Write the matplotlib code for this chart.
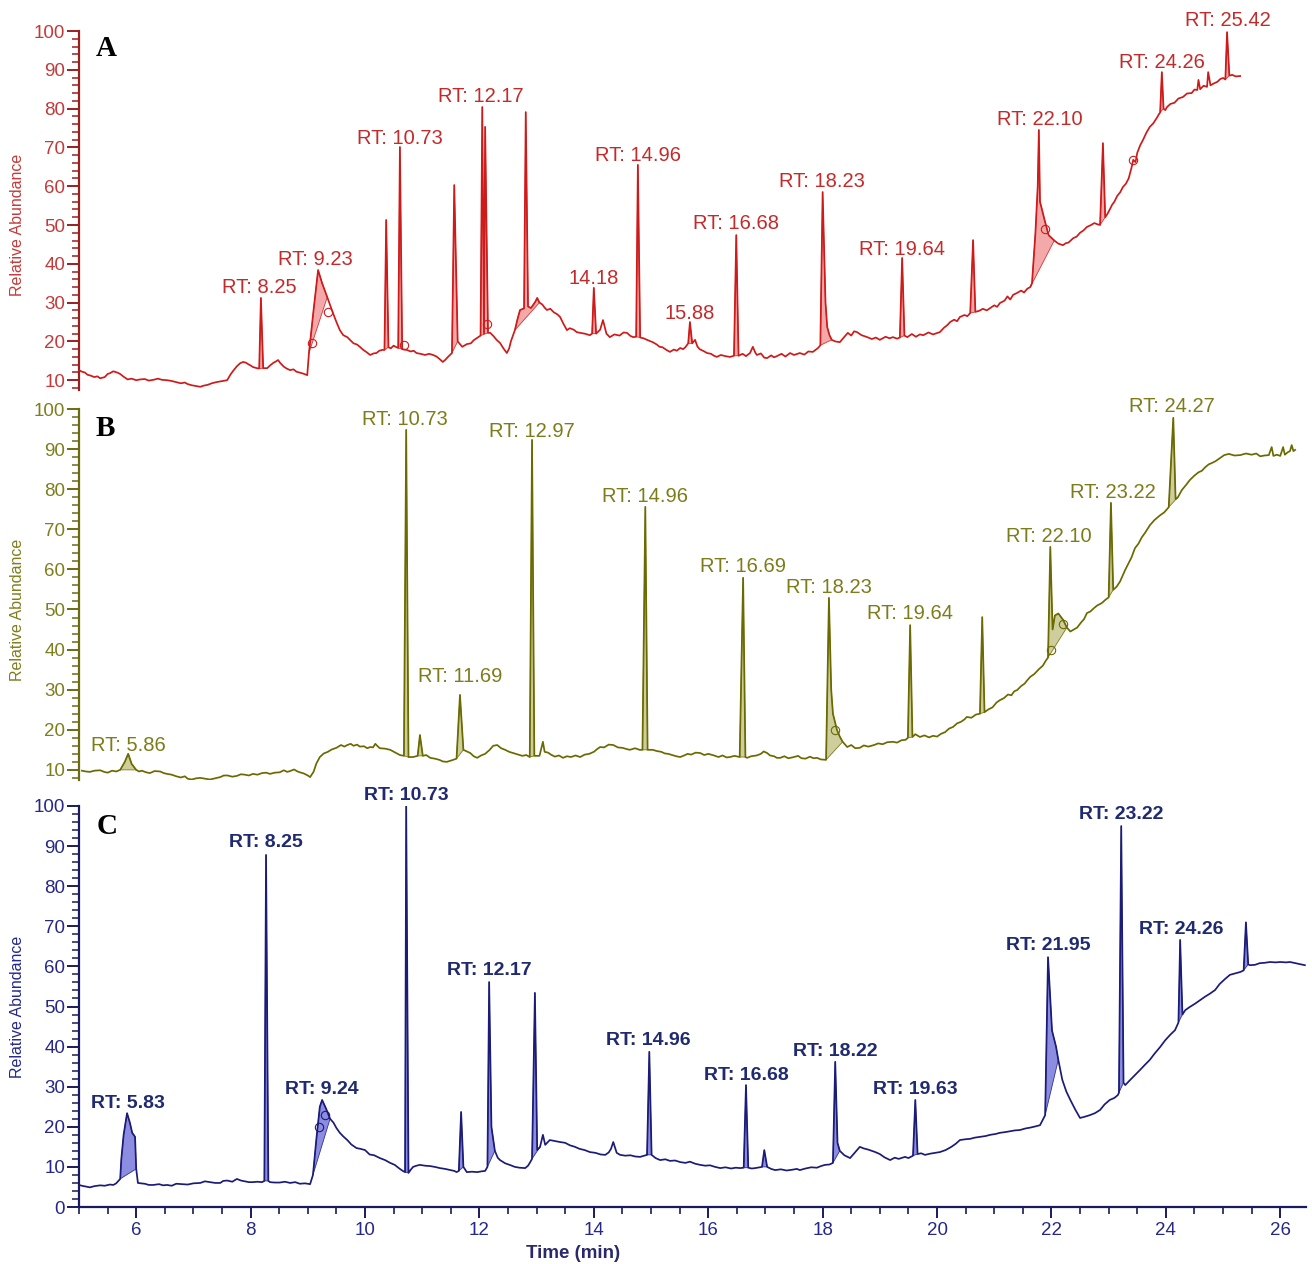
import matplotlib
matplotlib.use("Agg")
import matplotlib.pyplot as plt
from matplotlib.ticker import MultipleLocator
import numpy as np

# ---------------- Panel A (red): (time, relative abundance) ----------------
a_trace = [
    (5.00, 12.6), (5.05, 12.2), (5.10, 12.0), (5.15, 11.4), (5.20, 11.2), (5.27, 10.8), (5.32, 11.0), (5.37, 10.5),
    (5.42, 10.7), (5.45, 10.8), (5.50, 11.6), (5.54, 11.8), (5.60, 12.3), (5.64, 12.1), (5.68, 11.9), (5.72, 11.6),
    (5.78, 10.9), (5.85, 10.2), (5.92, 10.4), (6.00, 10.0), (6.07, 10.2), (6.15, 10.3), (6.22, 9.9), (6.30, 10.1),
    (6.38, 10.4), (6.45, 10.1), (6.54, 10.0), (6.62, 9.8), (6.70, 9.5), (6.78, 9.2), (6.85, 9.4), (6.90, 9.0),
    (6.97, 8.7), (7.05, 8.5), (7.12, 8.3), (7.18, 8.6), (7.25, 8.8), (7.32, 9.2), (7.40, 9.5), (7.48, 9.7),
    (7.55, 9.9), (7.59, 10.0), (7.65, 11.5), (7.70, 12.5), (7.76, 13.6), (7.82, 14.4), (7.87, 14.7), (7.92, 14.5),
    (7.95, 14.2), (8.00, 13.8), (8.04, 13.4), (8.11, 13.1), (8.15, 13.0), (8.18, 31.2), (8.22, 13.1), (8.29, 13.1),
    (8.34, 13.8), (8.40, 14.5), (8.45, 14.9), (8.48, 15.2), (8.52, 14.4), (8.58, 13.5), (8.63, 13.0), (8.69, 12.6),
    (8.75, 12.8), (8.80, 12.2), (8.85, 12.0), (8.92, 11.7), (8.99, 11.3),
    (9.02, 17.0), (9.10, 28.0), (9.18, 38.4), (9.25, 35.0), (9.34, 31.4), (9.44, 27.3), (9.50, 25.0), (9.56, 22.9),
    (9.62, 21.6), (9.69, 21.1), (9.75, 20.2), (9.80, 19.5), (9.86, 19.2), (9.91, 18.6), (9.97, 17.8), (10.03, 17.2),
    (10.09, 16.5), (10.15, 16.9), (10.20, 17.0), (10.25, 17.6), (10.30, 17.8),
    (10.34, 17.8), (10.37, 51.3), (10.41, 18.5), (10.45, 18.2), (10.50, 18.9), (10.55, 18.5), (10.58, 18.3),
    (10.61, 70.1), (10.65, 18.0), (10.73, 17.8), (10.80, 17.4), (10.85, 17.6), (10.90, 17.0), (10.97, 16.8),
    (11.05, 16.5), (11.12, 16.8), (11.19, 16.5), (11.25, 16.1), (11.30, 15.5), (11.36, 14.7), (11.40, 15.2),
    (11.45, 16.0), (11.52, 17.0),
    (11.56, 60.3), (11.62, 20.0), (11.70, 18.6), (11.78, 19.3), (11.85, 19.5), (11.90, 20.3), (11.96, 20.9),
    (12.02, 21.5), (12.05, 80.4), (12.08, 22.0), (12.10, 75.3), (12.15, 22.2), (12.19, 22.2), (12.25, 21.3),
    (12.30, 20.4), (12.36, 19.6), (12.42, 18.2), (12.48, 17.0), (12.52, 18.2), (12.55, 20.0), (12.62, 22.9),
    (12.67, 26.0), (12.71, 28.1),
    (12.78, 28.5), (12.81, 79.1), (12.85, 29.0), (12.90, 28.6), (12.94, 29.4), (12.98, 30.3), (13.01, 31.2),
    (13.05, 30.0), (13.10, 29.5), (13.14, 28.7), (13.18, 28.1), (13.24, 28.4), (13.30, 27.5), (13.36, 27.0),
    (13.41, 26.3), (13.47, 24.5), (13.53, 22.9), (13.58, 23.4), (13.65, 23.0), (13.70, 22.4), (13.76, 22.2),
    (13.84, 22.0), (13.93, 21.6), (13.97, 22.0), (14.00, 33.8), (14.04, 22.0),
    (14.11, 23.0), (14.16, 25.5), (14.22, 22.0), (14.28, 21.1), (14.36, 21.8), (14.45, 21.5), (14.52, 22.3),
    (14.58, 22.2), (14.64, 21.4), (14.69, 21.1), (14.74, 21.2), (14.77, 65.5), (14.81, 21.0), (14.87, 20.8),
    (14.93, 20.4), (14.98, 20.1), (15.03, 19.8), (15.10, 19.2), (15.15, 18.6), (15.20, 18.5), (15.27, 17.8),
    (15.33, 17.3), (15.40, 17.9), (15.45, 17.6), (15.51, 18.3), (15.56, 18.0), (15.60, 18.5), (15.65, 19.5),
    (15.68, 25.0), (15.72, 19.5), (15.77, 20.4), (15.81, 18.7), (15.85, 18.0), (15.92, 17.5), (15.98, 17.0),
    (16.05, 16.8), (16.10, 16.3), (16.15, 16.0), (16.22, 16.5), (16.30, 16.2), (16.38, 16.0), (16.45, 16.3),
    (16.49, 47.4), (16.53, 16.3), (16.60, 16.8), (16.66, 16.2), (16.73, 17.0), (16.78, 18.6), (16.82, 17.2),
    (16.85, 16.5), (16.92, 16.9), (16.98, 15.8), (17.03, 15.7), (17.10, 16.4), (17.15, 15.9), (17.20, 16.2),
    (17.28, 16.8), (17.35, 16.1), (17.43, 17.0), (17.50, 16.5), (17.60, 17.0), (17.68, 16.6), (17.75, 17.4),
    (17.83, 17.3), (17.92, 18.3), (17.96, 19.0),
    (18.00, 58.5), (18.05, 30.0), (18.08, 23.7), (18.12, 21.6), (18.16, 20.4), (18.22, 20.0), (18.30, 19.8),
    (18.37, 21.0), (18.44, 22.2), (18.50, 21.5), (18.55, 22.6), (18.60, 22.4), (18.68, 21.6), (18.78, 21.1),
    (18.86, 20.6), (18.93, 21.0), (19.00, 20.4), (19.10, 21.2), (19.17, 20.8), (19.23, 21.1), (19.30, 20.7),
    (19.35, 21.0), (19.39, 41.5), (19.43, 21.5), (19.48, 21.1), (19.56, 21.9), (19.63, 21.2), (19.70, 21.8),
    (19.76, 21.6), (19.85, 22.3), (19.93, 21.8), (20.05, 22.4), (20.12, 23.5), (20.18, 24.2), (20.23, 25.0),
    (20.30, 25.6), (20.35, 25.2), (20.40, 26.3), (20.48, 26.8), (20.53, 26.5), (20.58, 27.3), (20.63, 46.1),
    (20.67, 27.6), (20.74, 27.9), (20.80, 28.4), (20.87, 28.0), (20.93, 28.6), (21.00, 29.3), (21.05, 28.9),
    (21.10, 29.9), (21.18, 30.5), (21.23, 31.6), (21.28, 30.8), (21.33, 32.0), (21.40, 32.5), (21.47, 33.1),
    (21.52, 32.6), (21.58, 33.6), (21.63, 34.0),
    (21.66, 35.0), (21.72, 48.0), (21.76, 60.0), (21.78, 74.5), (21.80, 56.0), (21.88, 51.3), (21.95, 47.4),
    (22.05, 46.0), (22.12, 45.2), (22.20, 44.8), (22.25, 45.3), (22.30, 45.5), (22.38, 46.6), (22.44, 47.0),
    (22.50, 48.0), (22.56, 48.6), (22.62, 49.5), (22.68, 49.9), (22.75, 50.5), (22.80, 50.2), (22.85, 50.0),
    (22.90, 71.1), (22.94, 52.0), (22.98, 52.9), (23.02, 54.0), (23.06, 55.2), (23.10, 56.0), (23.15, 57.5),
    (23.20, 58.4), (23.25, 59.8), (23.30, 60.6), (23.35, 62.0), (23.40, 64.8), (23.43, 66.8), (23.47, 66.2),
    (23.50, 68.6), (23.55, 70.5), (23.60, 71.9), (23.66, 73.8), (23.72, 75.3), (23.78, 76.2), (23.85, 77.8),
    (23.88, 78.6), (23.90, 79.0), (23.93, 89.4), (23.96, 80.0), (23.99, 79.6), (24.02, 80.4), (24.08, 81.2),
    (24.15, 81.5), (24.22, 82.6), (24.30, 83.0), (24.37, 83.9), (24.45, 84.0), (24.50, 84.9), (24.55, 84.8),
    (24.57, 87.4), (24.60, 85.0), (24.66, 85.9), (24.72, 85.6), (24.74, 89.4), (24.78, 86.0), (24.84, 86.5),
    (24.90, 86.9), (24.95, 87.6), (25.00, 87.9), (25.04, 87.5), (25.07, 99.7), (25.11, 88.5), (25.16, 88.7),
    (25.22, 88.3), (25.30, 88.4)]
a_fill_windows = [(8.15, 8.22), (9.00, 9.40), (10.34, 10.41), (10.58, 10.65), (11.52, 11.62), (12.02, 12.15),
                  (12.62, 13.05), (13.97, 14.04), (14.74, 14.81), (15.65, 15.72), (16.45, 16.53), (17.96, 18.16),
                  (19.35, 19.43), (20.58, 20.67), (21.63, 22.05), (22.85, 22.94), (23.90, 23.96), (25.04, 25.11)]
a_labels = ["RT: 8.25", "RT: 9.23", "RT: 10.73", "RT: 12.17", "14.18", "RT: 14.96", "15.88", "RT: 16.68",
            "RT: 18.23", "RT: 19.64", "RT: 22.10", "RT: 24.26", "RT: 25.42"]
a_label_t = [8.16, 9.14, 10.61, 12.03, 14.00, 14.77, 15.68, 16.49, 17.99, 19.39, 21.80, 23.93, 25.09]
a_label_v = [33.8, 41.2, 72.4, 83.0, 36.1, 68.0, 27.3, 50.3, 61.1, 43.8, 77.1, 92.0, 102.8]
a_circ_t = [9.36, 9.07, 10.68, 12.14, 21.89, 23.43]
a_circ_v = [27.5, 19.6, 19.0, 24.5, 49.0, 66.8]

# ---------------- Panel B (olive) ----------------
b_trace = [
    (5.05, 9.8), (5.12, 9.6), (5.19, 9.5), (5.27, 9.8), (5.37, 9.9), (5.44, 9.5), (5.50, 9.3), (5.58, 9.8),
    (5.65, 9.6), (5.72, 10.0), (5.80, 12.0), (5.86, 14.0), (5.92, 11.5), (6.00, 10.0), (6.05, 9.6), (6.10, 9.8),
    (6.17, 9.4), (6.24, 9.2), (6.32, 9.7), (6.42, 9.6), (6.48, 9.2), (6.54, 9.0), (6.62, 8.8), (6.70, 8.4),
    (6.78, 8.1), (6.85, 8.4), (6.90, 7.8), (6.97, 7.6), (7.05, 7.9), (7.12, 8.0), (7.20, 7.8), (7.29, 7.6),
    (7.38, 7.9), (7.47, 8.2), (7.53, 8.6), (7.60, 8.6), (7.68, 8.3), (7.76, 8.5), (7.83, 8.9), (7.90, 8.8),
    (7.97, 8.6), (8.04, 9.0), (8.12, 8.8), (8.20, 9.2), (8.27, 9.3), (8.34, 9.0), (8.42, 9.3), (8.51, 9.4),
    (8.58, 9.9), (8.64, 9.5), (8.69, 9.7), (8.76, 10.1), (8.82, 9.6), (8.86, 9.4), (8.93, 9.1), (9.00, 8.6),
    (9.04, 8.2), (9.10, 9.5), (9.15, 11.6), (9.21, 13.2), (9.28, 14.1), (9.35, 14.5), (9.42, 15.1), (9.50, 15.5),
    (9.58, 16.2), (9.64, 15.8), (9.69, 16.2), (9.75, 16.5), (9.80, 16.0), (9.86, 16.3), (9.91, 15.8), (9.98, 15.9),
    (10.04, 15.4), (10.09, 15.7), (10.14, 15.6), (10.18, 16.5), (10.22, 15.9), (10.26, 15.4), (10.35, 15.3),
    (10.44, 15.0), (10.52, 14.4), (10.61, 13.7), (10.68, 13.5),
    (10.72, 94.8), (10.76, 13.2), (10.84, 13.2), (10.92, 13.5), (10.96, 18.7), (11.01, 13.5), (11.07, 13.7),
    (11.14, 13.0), (11.22, 12.8), (11.30, 12.5), (11.36, 12.1), (11.43, 12.0), (11.52, 12.4), (11.60, 12.8),
    (11.66, 28.7), (11.72, 15.0), (11.78, 14.6), (11.84, 14.2), (11.90, 13.4), (11.96, 13.0), (12.03, 13.6),
    (12.10, 14.0), (12.18, 15.0), (12.24, 16.0), (12.31, 16.2), (12.38, 15.4), (12.45, 15.0), (12.52, 14.5),
    (12.59, 14.2), (12.66, 13.9), (12.75, 13.5), (12.82, 13.7), (12.88, 13.2), (12.92, 92.3), (12.96, 13.5),
    (13.05, 13.5), (13.11, 17.0), (13.14, 14.5), (13.20, 14.3), (13.25, 13.8), (13.32, 13.3), (13.39, 13.6),
    (13.46, 13.0), (13.53, 13.4), (13.60, 13.2), (13.68, 13.6), (13.76, 13.2), (13.84, 13.8), (13.92, 14.0),
    (14.00, 14.5), (14.06, 15.2), (14.11, 15.7), (14.18, 15.6), (14.26, 16.3), (14.34, 16.2), (14.42, 15.6),
    (14.50, 15.5), (14.57, 15.2), (14.63, 15.0), (14.72, 15.4), (14.80, 15.0), (14.85, 15.0), (14.90, 75.6),
    (14.94, 15.0), (15.03, 15.0), (15.10, 14.7), (15.18, 14.5), (15.24, 14.1), (15.30, 14.0), (15.37, 13.7),
    (15.44, 13.4), (15.51, 13.2), (15.58, 13.6), (15.64, 14.0), (15.70, 13.8), (15.78, 14.3), (15.86, 14.2),
    (15.93, 13.7), (16.00, 14.0), (16.10, 13.6), (16.18, 13.2), (16.25, 13.6), (16.32, 13.1), (16.38, 13.2),
    (16.46, 13.5), (16.55, 13.2), (16.61, 57.9), (16.65, 13.2), (16.68, 13.0), (16.75, 13.4), (16.85, 13.6),
    (16.92, 14.0), (16.97, 14.6), (17.03, 14.2), (17.08, 13.6), (17.15, 13.4), (17.20, 13.0), (17.26, 13.0),
    (17.33, 13.4), (17.40, 12.9), (17.50, 13.2), (17.57, 13.5), (17.63, 12.9), (17.70, 12.8), (17.78, 13.3),
    (17.84, 12.9), (17.90, 13.0), (17.97, 12.6), (18.06, 12.5),
    (18.11, 52.9), (18.15, 30.0), (18.18, 24.0), (18.25, 20.0), (18.30, 18.3), (18.35, 17.0), (18.43, 15.7),
    (18.50, 16.2), (18.57, 15.4), (18.65, 15.5), (18.72, 16.1), (18.80, 15.8), (18.90, 16.2), (18.97, 16.6),
    (19.05, 16.4), (19.13, 16.9), (19.23, 17.0), (19.30, 16.8), (19.38, 17.4), (19.45, 17.5), (19.49, 18.0),
    (19.53, 46.1), (19.57, 18.2), (19.62, 18.9), (19.70, 18.2), (19.78, 18.6), (19.86, 18.1), (19.93, 18.5),
    (20.00, 18.3), (20.07, 19.0), (20.14, 19.4), (20.21, 20.3), (20.28, 20.7), (20.35, 21.6), (20.42, 22.0),
    (20.48, 22.6), (20.52, 23.2), (20.60, 23.0), (20.68, 23.8), (20.75, 24.0), (20.79, 48.1), (20.83, 24.4),
    (20.90, 25.1), (20.97, 25.6), (21.04, 26.8), (21.10, 27.4), (21.17, 27.9), (21.24, 28.8), (21.30, 28.6),
    (21.35, 29.6), (21.40, 29.9), (21.47, 30.9), (21.53, 31.5), (21.58, 32.4), (21.63, 33.2), (21.70, 33.9),
    (21.78, 35.1), (21.85, 36.0), (21.90, 37.2), (21.94, 38.0),
    (21.98, 65.6), (22.02, 45.0), (22.06, 48.5), (22.12, 49.0), (22.20, 47.5), (22.27, 45.5), (22.33, 44.5),
    (22.39, 45.0), (22.45, 45.5), (22.52, 46.8), (22.57, 47.6), (22.62, 49.1), (22.68, 49.5), (22.74, 50.3),
    (22.80, 51.0), (22.88, 51.6), (22.95, 52.5), (23.00, 53.0), (23.04, 76.6), (23.08, 54.9), (23.14, 55.7),
    (23.20, 57.0), (23.25, 58.6), (23.29, 59.9), (23.35, 61.6), (23.40, 63.0), (23.46, 65.3), (23.52, 66.4),
    (23.58, 68.0), (23.64, 69.2), (23.72, 71.0), (23.80, 72.3), (23.90, 73.5), (23.97, 74.2), (24.05, 75.5),
    (24.13, 97.8), (24.17, 77.5), (24.21, 78.0), (24.28, 79.8), (24.35, 81.0), (24.42, 82.3), (24.50, 83.4),
    (24.57, 84.2), (24.63, 84.6), (24.69, 85.5), (24.75, 86.2), (24.80, 86.5), (24.87, 87.0), (24.95, 87.8),
    (25.02, 88.5), (25.10, 88.8), (25.20, 88.4), (25.30, 88.5), (25.40, 88.9), (25.50, 88.6), (25.58, 88.9),
    (25.65, 88.2), (25.72, 88.4), (25.80, 88.5), (25.85, 90.5), (25.88, 88.3), (25.94, 88.6), (26.00, 88.3),
    (26.05, 90.5), (26.08, 88.6), (26.13, 89.2), (26.17, 89.5), (26.20, 91.0), (26.23, 89.5), (26.26, 89.8)]
b_fill_windows = [(5.72, 6.00), (10.68, 10.76), (10.92, 11.01), (11.60, 11.72), (12.88, 12.96), (14.85, 14.94),
                  (16.55, 16.65), (18.06, 18.35), (19.49, 19.57), (20.75, 20.83), (21.94, 22.27), (23.00, 23.08),
                  (24.05, 24.21)]
b_labels = ["RT: 5.86", "RT: 10.73", "RT: 11.69", "RT: 12.97", "RT: 14.96", "RT: 16.69", "RT: 18.23",
            "RT: 19.64", "RT: 22.10", "RT: 23.22", "RT: 24.27"]
b_label_t = [5.86, 10.70, 11.66, 12.92, 14.90, 16.61, 18.11, 19.53, 21.96, 23.08, 24.11]
b_label_v = [16.0, 97.3, 33.4, 94.5, 78.3, 60.6, 55.6, 49.1, 68.1, 79.3, 100.5]
b_circ_t = [18.22, 21.99, 22.20]
b_circ_v = [20.0, 40.0, 46.5]

# ---------------- Panel C (navy) ----------------
c_trace = [
    (5.00, 5.5), (5.05, 5.3), (5.12, 5.1), (5.19, 4.9), (5.27, 5.2), (5.37, 5.4), (5.45, 5.3), (5.54, 5.6),
    (5.60, 5.5), (5.65, 5.9), (5.72, 7.0), (5.74, 12.0), (5.78, 18.0), (5.84, 23.4), (5.89, 21.0), (5.93, 18.5),
    (5.98, 17.5), (6.00, 9.5), (6.03, 6.0), (6.08, 5.9), (6.15, 5.8), (6.22, 5.5), (6.30, 5.5), (6.40, 5.7),
    (6.47, 5.4), (6.54, 5.5), (6.62, 5.3), (6.70, 5.8), (6.80, 5.7), (6.90, 5.6), (7.00, 5.9), (7.12, 6.0),
    (7.20, 6.4), (7.29, 6.2), (7.38, 6.0), (7.47, 6.0), (7.52, 6.5), (7.59, 6.6), (7.68, 6.3), (7.76, 7.0),
    (7.83, 6.6), (7.90, 6.4), (7.97, 6.2), (8.04, 6.2), (8.12, 6.3), (8.20, 6.2), (8.24, 6.5), (8.27, 87.8),
    (8.31, 6.5), (8.34, 6.2), (8.42, 6.1), (8.51, 6.1), (8.60, 6.3), (8.69, 6.0), (8.78, 6.2), (8.86, 5.8),
    (8.95, 5.9), (9.04, 5.7), (9.09, 8.0), (9.15, 17.0), (9.21, 25.0), (9.25, 26.7), (9.32, 24.5), (9.39, 22.0),
    (9.45, 21.0), (9.50, 19.7), (9.56, 18.5), (9.62, 17.6), (9.69, 16.7), (9.76, 15.6), (9.85, 14.7),
    (9.92, 14.5), (10.00, 14.2), (10.08, 13.1), (10.16, 12.9), (10.26, 12.2), (10.35, 11.7), (10.44, 11.0),
    (10.52, 10.5), (10.60, 9.6), (10.66, 9.0), (10.70, 8.7), (10.72, 100.0), (10.76, 8.5), (10.80, 9.3),
    (10.84, 10.0), (10.90, 10.3), (10.96, 10.5), (11.05, 10.3), (11.14, 10.2), (11.22, 10.0), (11.31, 9.7),
    (11.40, 9.5), (11.50, 9.2), (11.56, 9.0), (11.60, 8.7), (11.64, 9.0), (11.68, 23.7), (11.72, 10.0),
    (11.78, 8.7), (11.87, 8.8), (11.96, 8.7), (12.04, 8.9), (12.10, 9.0), (12.14, 10.0), (12.17, 56.1),
    (12.21, 20.0), (12.27, 14.0), (12.32, 12.3), (12.36, 11.7), (12.45, 10.9), (12.53, 10.5), (12.62, 10.0),
    (12.70, 9.8), (12.80, 9.7), (12.85, 10.3), (12.88, 11.0), (12.92, 12.0), (12.97, 53.4), (13.01, 14.2),
    (13.06, 15.0), (13.11, 18.0), (13.15, 15.5), (13.23, 16.7), (13.30, 16.5), (13.41, 16.2), (13.50, 16.0),
    (13.58, 15.4), (13.67, 15.0), (13.75, 14.5), (13.84, 14.2), (13.93, 13.7), (14.03, 13.5), (14.12, 13.1),
    (14.20, 13.0), (14.26, 13.6), (14.30, 14.5), (14.34, 16.2), (14.40, 13.5), (14.46, 13.0), (14.55, 12.8),
    (14.64, 12.9), (14.72, 12.6), (14.81, 12.5), (14.93, 13.0), (14.97, 38.7), (15.01, 13.0), (15.08, 12.2),
    (15.16, 11.7), (15.25, 11.9), (15.33, 11.5), (15.42, 11.6), (15.51, 11.2), (15.60, 11.0), (15.68, 11.3),
    (15.77, 10.8), (15.86, 10.5), (15.95, 10.3), (16.03, 10.4), (16.12, 10.0), (16.21, 9.7), (16.30, 9.9),
    (16.40, 9.6), (16.48, 9.8), (16.56, 9.7), (16.62, 9.8), (16.66, 30.4), (16.70, 9.8), (16.76, 9.6),
    (16.82, 9.7), (16.94, 10.0), (16.98, 14.2), (17.03, 10.0), (17.10, 9.5), (17.17, 9.2), (17.27, 9.4),
    (17.37, 9.1), (17.47, 9.3), (17.55, 9.5), (17.60, 9.2), (17.70, 9.6), (17.80, 9.9), (17.90, 9.8),
    (17.97, 10.2), (18.04, 10.5), (18.12, 10.6), (18.18, 11.0), (18.22, 36.2), (18.26, 16.0), (18.30, 14.0),
    (18.38, 12.9), (18.48, 12.2), (18.56, 13.5), (18.65, 15.0), (18.72, 14.6), (18.80, 14.3), (18.86, 14.0),
    (18.92, 13.7), (19.00, 13.2), (19.08, 12.4), (19.18, 11.7), (19.26, 12.3), (19.33, 12.0), (19.44, 12.5),
    (19.50, 12.2), (19.58, 12.8), (19.62, 26.7), (19.66, 13.2), (19.72, 13.4), (19.79, 13.0), (19.88, 13.3),
    (19.96, 13.5), (20.05, 13.7), (20.15, 14.2), (20.25, 15.0), (20.33, 15.8), (20.40, 16.7), (20.50, 16.9),
    (20.58, 17.0), (20.66, 17.3), (20.75, 17.5), (20.85, 17.7), (20.93, 18.0), (21.02, 18.2), (21.10, 18.5),
    (21.20, 18.7), (21.28, 18.9), (21.36, 19.1), (21.45, 19.2), (21.55, 19.6), (21.63, 19.8), (21.72, 20.1),
    (21.80, 20.4), (21.89, 22.9),
    (21.94, 62.3), (22.01, 44.0), (22.08, 40.0), (22.12, 36.7), (22.19, 31.7), (22.26, 28.8), (22.33, 26.7),
    (22.42, 24.2), (22.50, 22.2), (22.58, 22.5), (22.67, 22.9), (22.76, 23.4), (22.85, 24.2), (22.93, 25.6),
    (23.02, 26.7), (23.10, 27.2), (23.16, 27.9), (23.18, 28.5), (23.22, 95.0), (23.26, 31.0), (23.29, 30.4),
    (23.37, 31.6), (23.46, 32.9), (23.55, 34.2), (23.63, 35.4), (23.72, 36.7), (23.80, 38.2), (23.90, 39.9),
    (23.99, 41.6), (24.08, 43.0), (24.16, 44.1), (24.22, 46.0), (24.25, 66.6), (24.29, 48.0), (24.34, 49.1),
    (24.42, 49.9), (24.51, 50.7), (24.60, 51.6), (24.68, 52.4), (24.77, 53.2), (24.86, 54.1), (24.94, 55.6),
    (25.03, 56.8), (25.12, 57.9), (25.20, 58.2), (25.30, 58.6), (25.36, 59.0), (25.40, 71.0), (25.44, 60.5),
    (25.47, 60.3), (25.56, 60.4), (25.64, 60.8), (25.73, 60.9), (25.82, 61.1), (25.92, 61.0), (26.00, 61.1),
    (26.10, 61.0), (26.17, 61.1), (26.30, 60.7), (26.43, 60.3)]
c_fill_windows = [(5.72, 6.00), (8.24, 8.31), (9.09, 9.39), (10.70, 10.76), (11.64, 11.72), (12.14, 12.27),
                  (12.92, 13.06), (14.93, 15.01), (16.62, 16.70), (16.94, 17.03), (18.18, 18.30), (19.58, 19.66),
                  (21.89, 22.12), (23.18, 23.26), (24.22, 24.29), (25.36, 25.44)]
c_labels = ["RT: 5.83", "RT: 8.25", "RT: 9.24", "RT: 10.73", "RT: 12.17", "RT: 14.96", "RT: 16.68",
            "RT: 18.22", "RT: 19.63", "RT: 21.95", "RT: 23.22", "RT: 24.26"]
c_label_t = [5.86, 8.27, 9.25, 10.72, 12.17, 14.95, 16.66, 18.22, 19.62, 21.94, 23.22, 24.27]
c_label_v = [25.9, 91.0, 29.4, 102.5, 58.9, 41.4, 32.7, 38.7, 29.2, 65.1, 98.0, 69.1]
c_circ_t = [9.20, 9.30]
c_circ_v = [20.0, 23.0]

panel_letters = ["A", "B", "C"]

plt.rcParams['font.family'] = ['Liberation Sans', 'DejaVu Sans']

W, H = 1312, 1264
fig = plt.figure(figsize=(W / 100, H / 100), dpi=100)


def frac_rect(top_px, bottom_px):
    left = 79 / W
    width = (1306 - 79) / W
    return [left, 1 - bottom_px / H, width, (bottom_px - top_px) / H]


panels = [
    dict(tr=a_trace, win=a_fill_windows, labels=a_labels, lt=a_label_t, lv=a_label_v,
         ct=a_circ_t, cv=a_circ_v, ylim=(7.5, 100), rect=frac_rect(31, 389.9),
         line='#cf1a1a', fill='#f29a9a', tick='#9a1f1f', ticklab='#c43a3a', txt='#c42a2a', weight='normal',
         fs=14.5, ylab_y=225),
    dict(tr=b_trace, win=b_fill_windows, labels=b_labels, lt=b_label_t, lv=b_label_v,
         ct=b_circ_t, cv=b_circ_v, ylim=(7.5, 100), rect=frac_rect(409, 779.9),
         line='#6a6a00', fill='#c6c68c', tick='#6b6b12', ticklab='#7e7e1c', txt='#7c7c1a', weight='normal',
         fs=14.5, ylab_y=610),
    dict(tr=c_trace, win=c_fill_windows, labels=c_labels, lt=c_label_t, lv=c_label_v,
         ct=c_circ_t, cv=c_circ_v, ylim=(0, 100), rect=frac_rect(806, 1207),
         line='#1b1b78', fill='#7878dc', tick='#1a1a5e', ticklab='#25288a', txt='#1f2a70', weight='bold',
         fs=14, ylab_y=1007),
]

for i, p in enumerate(panels):
    ax = fig.add_axes(p['rect'])
    t = np.array([q[0] for q in p['tr']])
    v = np.array([q[1] for q in p['tr']])
    for (t0, t1) in p['win']:
        m = (t >= t0 - 1e-9) & (t <= t1 + 1e-9)
        ax.fill(t[m], v[m], facecolor=p['fill'], edgecolor=p['line'], lw=0.6, alpha=0.85, zorder=2)
    ax.plot(t, v, color=p['line'], lw=1.25, zorder=3)
    ax.plot(p['ct'], p['cv'], 'o', ms=6, mfc='none', mec=p['line'], mew=0.8, zorder=4)
    for s, x, y in zip(p['labels'], p['lt'], p['lv']):
        ax.text(x, y, s, ha='center', va='center', fontsize=p['fs'], color=p['txt'],
                fontweight=p['weight'], clip_on=False, zorder=5)
    ax.set_xlim(5, 26.45)
    ax.set_ylim(*p['ylim'])
    for sp in ['top', 'right']:
        ax.spines[sp].set_visible(False)
    ax.spines['left'].set_color(p['tick'])
    ax.spines['left'].set_linewidth(1.6)
    ax.yaxis.set_major_locator(MultipleLocator(10))
    ax.yaxis.set_minor_locator(MultipleLocator(2))
    ax.tick_params(axis='y', which='major', length=9, width=1.4, color=p['tick'],
                   labelcolor=p['ticklab'], labelsize=13.5, pad=1)
    ax.tick_params(axis='y', which='minor', length=5, width=1.1, color=p['tick'])
    if p['ylim'][0] > 0:
        ax.set_yticks([10, 20, 30, 40, 50, 60, 70, 80, 90, 100])
    if i < 2:
        ax.spines['bottom'].set_visible(False)
        ax.set_xticks([])
        ax.set_xticks([], minor=True)
    else:
        ax.spines['bottom'].set_color(p['tick'])
        ax.spines['bottom'].set_linewidth(1.6)
        ax.xaxis.set_major_locator(MultipleLocator(2))
        ax.xaxis.set_minor_locator(MultipleLocator(0.5))
        ax.tick_params(axis='x', which='major', length=8, width=1.4, color=p['tick'],
                       labelcolor=p['ticklab'], labelsize=13.5, pad=3)
        ax.tick_params(axis='x', which='minor', length=5, width=1.2, color=p['tick'])
    ax.patch.set_alpha(0)
    fig.text(18 / W, 1 - p['ylab_y'] / H, "Relative Abundance", rotation=90, ha='center', va='center',
             fontsize=11.5, color=p['ticklab'])

letter_pos = [(106, 49), (105, 428), (107, 826)]
for L, (px, py) in zip(panel_letters, letter_pos):
    fig.text(px / W, 1 - py / H, L, fontsize=21, fontweight='bold', family='Liberation Serif',
             ha='center', va='center', color='black')

fig.text(573 / W, 1 - 1254 / H, "Time (min)", ha='center', va='center', fontsize=13.5,
         fontweight='bold', color='#2a2a6a')

fig.savefig("out.png", dpi=100)
